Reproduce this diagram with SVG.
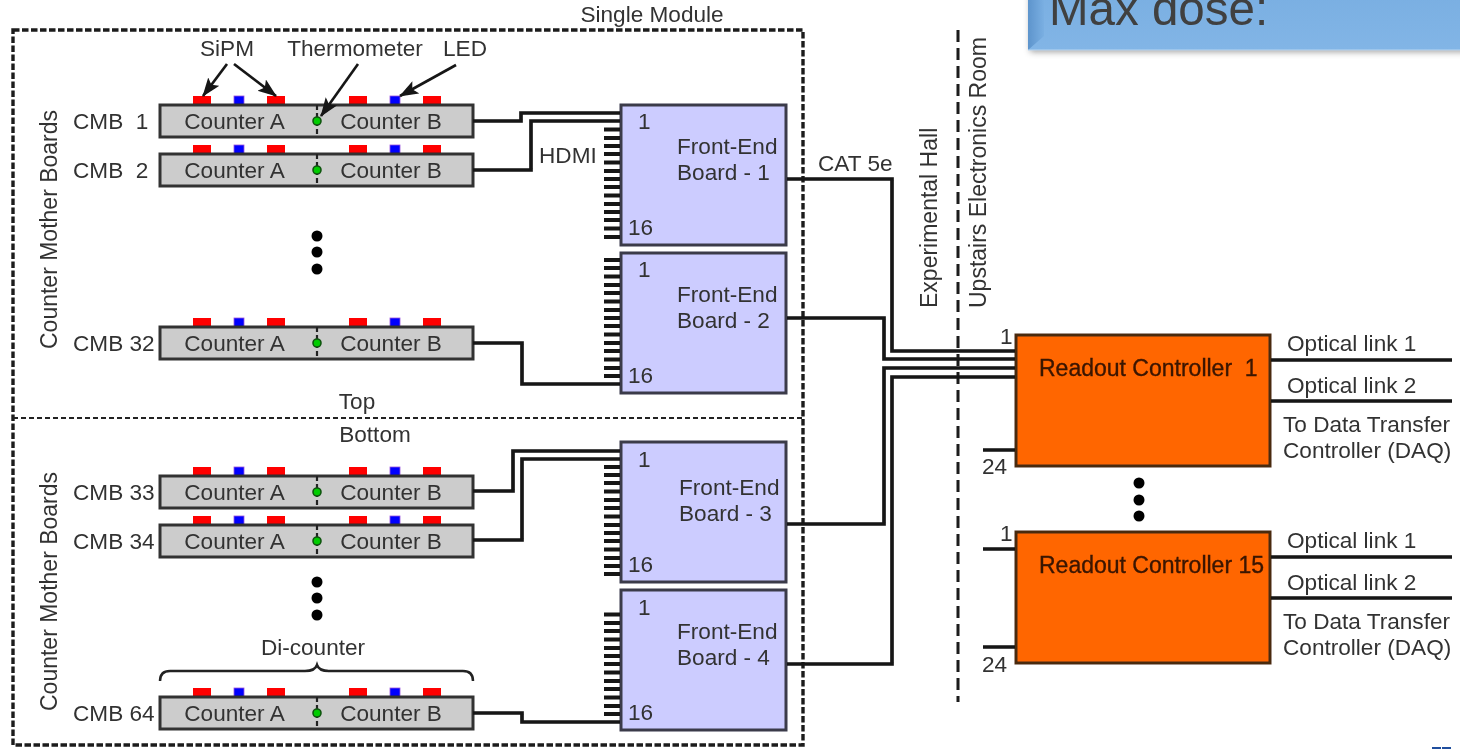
<svg xmlns="http://www.w3.org/2000/svg" width="1460" height="749" viewBox="0 0 1460 749">
<style>
text{font-family:"Liberation Sans",Arial,sans-serif;font-size:22.6px;fill:#333333;white-space:pre}
.mid{text-anchor:middle}
.rot{font-size:23px}
.cmb{fill:#cccccc;stroke:#333333;stroke-width:3}
.div{stroke:#222;stroke-width:2.2;stroke-dasharray:5 3;fill:none}
.red{fill:#ff0000}.blu{fill:#0000ff;stroke:#9955dd;stroke-width:.8}
.grn{fill:#00cc00;stroke:#115511;stroke-width:1.6}
.feb{fill:#ccccff;stroke:#3a3a4a;stroke-width:3}
.rc{fill:#ff6600;stroke:#4a2a10;stroke-width:3}
.w{fill:none;stroke:#141414;stroke-width:3.7}
.pin{stroke:#141414;stroke-width:4.2;fill:none}
.arr{fill:none;stroke:#141414;stroke-width:2.6;marker-end:url(#ah)}
.dot{fill:#000}
.rcl{font-size:23px;fill:#3a1500;stroke:#3a1500;stroke-width:.35}
</style>
<defs>
<filter id="soft" filterUnits="userSpaceOnUse" x="0" y="0" width="1460" height="749"><feGaussianBlur stdDeviation="0.75"/></filter>
<filter id="sh" filterUnits="userSpaceOnUse" x="1000" y="0" width="460" height="80"><feGaussianBlur stdDeviation="3"/></filter>
<marker id="ah" markerUnits="userSpaceOnUse" markerWidth="22" markerHeight="16" refX="18" refY="7" orient="auto"><path d="M0 0L19 7L0 14L4 7Z" fill="#141414"/></marker>
<linearGradient id="bl" x1="0" y1="0" x2="0" y2="1"><stop offset="0" stop-color="#7aafe2"/><stop offset="1" stop-color="#82b5e6"/></linearGradient>
<linearGradient id="bv" x1="0" y1="0" x2="1" y2="0"><stop offset="0" stop-color="#5d94cc"/><stop offset="1" stop-color="#7aafe2"/></linearGradient>
<g id="sensors">
<rect class="red" x="193" y="96" width="18" height="9"/><rect class="blu" x="234" y="96" width="10" height="9"/><rect class="red" x="267" y="96" width="18" height="9"/>
<rect class="red" x="349" y="96" width="18" height="9"/><rect class="blu" x="390" y="96" width="10" height="9"/><rect class="red" x="423" y="96" width="18" height="9"/>
</g>
</defs>
<rect width="1460" height="749" fill="#ffffff"/>
<g filter="url(#soft)">
<g id="regions">
<rect x="13" y="30" width="790" height="715" fill="none" stroke="#1a1a1a" stroke-width="3.4" stroke-dasharray="6.500 2.500"/>
<line x1="13" y1="418" x2="803" y2="418" stroke="#222" stroke-width="1.8" stroke-dasharray="5 3"/>
<line x1="958" y1="30" x2="958" y2="702" stroke="#1a1a1a" stroke-width="3" stroke-dasharray="12 6"/>
<text class="mid" x="652" y="22">Single Module</text>
<text class="mid" x="357" y="409">Top</text>
<text class="mid" x="375" y="442">Bottom</text>
<text class="rot" transform="translate(937 308) rotate(-90)">Experimental Hall</text>
<text class="rot" transform="translate(986 308) rotate(-90)">Upstairs Electronics Room</text>
<text class="rot" transform="translate(57 349) rotate(-90)">Counter Mother Boards</text>
<text class="rot" transform="translate(57 711) rotate(-90)">Counter Mother Boards</text>
<text x="539" y="163">HDMI</text>
<text x="818" y="171">CAT 5e</text>
<text class="mid" x="313" y="655">Di-counter</text>
<path d="M160 681Q160 671 170 671L305 671Q315 671 317 665Q319 671 329 671L463 671Q473 671 473 681" fill="none" stroke="#222" stroke-width="2.5"/>
<text class="mid" x="227" y="56">SiPM</text>
<text class="mid" x="355" y="56">Thermometer</text>
<text class="mid" x="465" y="56">LED</text>
<circle class="dot" cx="317" cy="236" r="5.500"/><circle class="dot" cx="317" cy="252" r="5.500"/><circle class="dot" cx="317" cy="269" r="5.500"/>
<circle class="dot" cx="317" cy="582" r="5.500"/><circle class="dot" cx="317" cy="598" r="5.500"/><circle class="dot" cx="317" cy="615" r="5.500"/>
<circle class="dot" cx="1139" cy="483" r="5.500"/><circle class="dot" cx="1139" cy="500" r="5.500"/><circle class="dot" cx="1139" cy="516" r="5.500"/>
</g>
<g id="cmb-1"><use href="#sensors"/><rect class="cmb" x="160" y="105" width="313" height="32"/><line class="div" x1="317" y1="105" x2="317" y2="137"/><circle class="grn" cx="317" cy="121" r="4"/><text x="73" y="129">CMB  1</text><text class="mid" x="234.500" y="129">Counter A</text><text class="mid" x="391" y="129">Counter B</text></g>
<g id="cmb-2" transform="translate(0 49)"><use href="#sensors"/><rect class="cmb" x="160" y="105" width="313" height="32"/><line class="div" x1="317" y1="105" x2="317" y2="137"/><circle class="grn" cx="317" cy="121" r="4"/><text x="73" y="129">CMB  2</text><text class="mid" x="234.500" y="129">Counter A</text><text class="mid" x="391" y="129">Counter B</text></g>
<g id="cmb-32" transform="translate(0 222)"><use href="#sensors"/><rect class="cmb" x="160" y="105" width="313" height="32"/><line class="div" x1="317" y1="105" x2="317" y2="137"/><circle class="grn" cx="317" cy="121" r="4"/><text x="73" y="129">CMB 32</text><text class="mid" x="234.500" y="129">Counter A</text><text class="mid" x="391" y="129">Counter B</text></g>
<g id="cmb-33" transform="translate(0 371)"><use href="#sensors"/><rect class="cmb" x="160" y="105" width="313" height="32"/><line class="div" x1="317" y1="105" x2="317" y2="137"/><circle class="grn" cx="317" cy="121" r="4"/><text x="73" y="129">CMB 33</text><text class="mid" x="234.500" y="129">Counter A</text><text class="mid" x="391" y="129">Counter B</text></g>
<g id="cmb-34" transform="translate(0 420)"><use href="#sensors"/><rect class="cmb" x="160" y="105" width="313" height="32"/><line class="div" x1="317" y1="105" x2="317" y2="137"/><circle class="grn" cx="317" cy="121" r="4"/><text x="73" y="129">CMB 34</text><text class="mid" x="234.500" y="129">Counter A</text><text class="mid" x="391" y="129">Counter B</text></g>
<g id="cmb-64" transform="translate(0 592)"><use href="#sensors"/><rect class="cmb" x="160" y="105" width="313" height="32"/><line class="div" x1="317" y1="105" x2="317" y2="137"/><circle class="grn" cx="317" cy="121" r="4"/><text x="73" y="129">CMB 64</text><text class="mid" x="234.500" y="129">Counter A</text><text class="mid" x="391" y="129">Counter B</text></g>
<g id="feb-1"><rect class="feb" x="621" y="105" width="165" height="140"/><text x="638" y="129">1</text><text x="628" y="235">16</text><text x="677" y="154">Front-End</text><text x="677" y="180">Board - 1</text></g>
<g id="feb-2"><rect class="feb" x="621" y="253" width="165" height="140"/><text x="638" y="277">1</text><text x="628" y="383">16</text><text x="677" y="302">Front-End</text><text x="677" y="328">Board - 2</text></g>
<g id="feb-3"><rect class="feb" x="621" y="442" width="165" height="140"/><text x="638" y="467">1</text><text x="628" y="572">16</text><text x="679" y="495">Front-End</text><text x="679" y="521">Board - 3</text></g>
<g id="feb-4"><rect class="feb" x="621" y="590" width="165" height="140"/><text x="638" y="615">1</text><text x="628" y="720">16</text><text x="677" y="639">Front-End</text><text x="677" y="665">Board - 4</text></g>
<g id="rc-1"><rect class="rc" x="1016" y="335" width="254" height="131"/><text class="rcl" x="1039" y="376">Readout Controller  1</text><text x="1000" y="344">1</text><text x="982" y="474">24</text><text x="1287" y="351">Optical link 1</text><text x="1287" y="393">Optical link 2</text><text x="1283" y="432">To Data Transfer</text><text x="1283" y="458">Controller (DAQ)</text></g>
<g id="rc-15"><rect class="rc" x="1016" y="532" width="254" height="131"/><text class="rcl" x="1039" y="573">Readout Controller 15</text><text x="1000" y="541">1</text><text x="982" y="672">24</text><text x="1287" y="548">Optical link 1</text><text x="1287" y="590">Optical link 2</text><text x="1283" y="629">To Data Transfer</text><text x="1283" y="655">Controller (DAQ)</text></g>
<g id="connectors">
<path class="w" d="M473 121H521V113H620"/>
<path class="w" d="M473 170H531V121H620"/>
<path class="w" d="M473 343H522V384H620"/>
<path class="w" d="M473 491H513V451H620"/>
<path class="w" d="M473 540H522V459H620"/>
<path class="w" d="M473 713H522V722H620"/>
<path class="w" d="M787 179H892V351H1015"/>
<path class="w" d="M787 318H884V359H1015"/>
<path class="w" d="M787 524H884V368H1015"/>
<path class="w" d="M787 664H892V377H1015"/>
<path class="w" d="M983 450H1015M983 549H1015M983 647H1015"/>
<path class="w" d="M1271 360H1452M1271 401H1452M1271 557H1452M1271 598H1452"/>
<path class="pin" d="M604 129.500H620M604 138H620M604 146H620M604 154H620M604 162.500H620M604 171H620M604 179H620M604 187H620M604 195.500H620M604 204H620M604 212H620M604 220H620M604 228.500H620M604 237H620"/>
<path class="pin" d="M604 260H620M604 268H620M604 276.500H620M604 285H620M604 293H620M604 301.500H620M604 310H620M604 318H620M604 326H620M604 334.500H620M604 343H620M604 351H620M604 359.500H620M604 368H620M604 376H620"/>
<path class="pin" d="M604 467H620M604 475H620M604 483H620M604 491.500H620M604 500H620M604 508H620M604 516.500H620M604 525H620M604 533H620M604 541H620M604 549.500H620M604 558H620M604 566H620M604 574H620"/>
<path class="pin" d="M604 614.500H620M604 623H620M604 631H620M604 639.500H620M604 648H620M604 656H620M604 664H620M604 672.500H620M604 681H620M604 689H620M604 697.500H620M604 706H620M604 714H620"/>
<path class="arr" d="M227 64L203 96"/>
<path class="arr" d="M234 64L276 96"/>
<path class="arr" d="M358 64L321 116"/>
<path class="arr" d="M456 65L400 96"/>
</g>
</g>
<g id="callout">
<rect x="1030" y="-10" width="440" height="62" fill="#555" opacity=".55" filter="url(#sh)"/>
<rect x="1028" y="-5" width="432" height="55" fill="url(#bl)"/>
<polygon points="1028,0 1044,0 1044,36 1028,50" fill="url(#bv)"/>
<line x1="1028" y1="50" x2="1460" y2="50" stroke="#b9d6f2" stroke-width="1"/>
<text x="1049" y="25" style="font-size:47.500px;fill:#404040">Max dose:</text>
</g>
<g id="corner"><rect x="1432" y="747" width="9" height="2" fill="#1f4e9e"/><rect x="1442" y="747" width="9" height="2" fill="#1f4e9e"/></g>
</svg>
